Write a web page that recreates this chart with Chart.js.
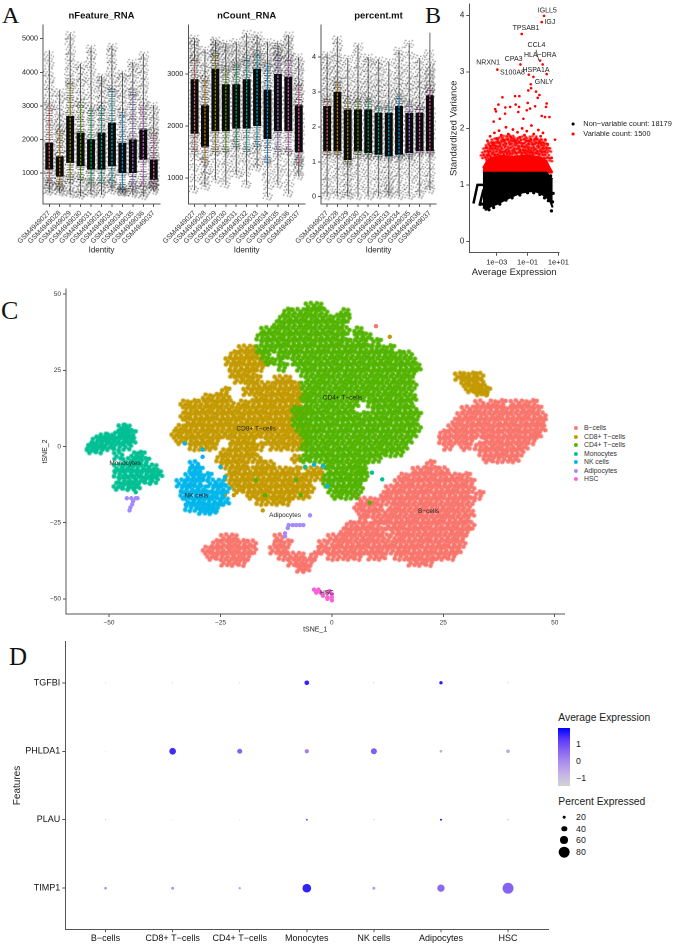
<!DOCTYPE html>
<html>
<head>
<meta charset="utf-8">
<title>scRNA panels</title>
<script src="https://cdn.jsdelivr.net/npm/chart.js@4"></script>
<style>
  html, body { margin: 0; background: #fff; }
  body { position: relative; width: 677px; height: 944px; overflow: hidden; font-family: "Liberation Sans", sans-serif; color: #222; }
  canvas { position: absolute; }
  .letter { position: absolute; font-family: "Liberation Serif", serif; color: #111; line-height: 1; }
  .txt { position: absolute; white-space: nowrap; line-height: 1; transform: translateY(-50%); }
  .dot { position: absolute; border-radius: 50%; transform: translate(-50%, -50%); }
</style>
</head>
<body>
<div class="letter" style="left:2px;top:3px;font-size:24px">A</div>
<div class="letter" style="left:425px;top:3px;font-size:24px">B</div>
<div class="letter" style="left:1px;top:298px;font-size:26px">C</div>
<div class="letter" style="left:9px;top:644px;font-size:25px">D</div>
<canvas id="a1" width="170" height="265" style="left:0;top:0"></canvas>
<canvas id="a2" width="160" height="265" style="left:160px;top:0"></canvas>
<canvas id="a3" width="150" height="265" style="left:290px;top:0"></canvas>
<canvas id="b" width="145" height="280" style="left:440px;top:0"></canvas>
<canvas id="c" width="570" height="356" style="left:0;top:280px"></canvas>
<canvas id="d" width="555" height="308" style="left:0;top:636px"></canvas>
<div id="legends"></div>
<script>
// ---- panel A
const samples = ['GSM4949027','GSM4949028','GSM4949029','GSM4949030','GSM4949031','GSM4949032','GSM4949033','GSM4949034','GSM4949035','GSM4949036','GSM4949037'];
const sampleColors = ['#F8766D','#DB8E00','#AEA200','#64B200','#00BD5C','#00C1A7','#00BADE','#00A6FF','#B385FF','#EF67EB','#FF63B6'];

const featureMin = [400,400,350,300,350,350,450,400,350,300,450];
const featureMax = [4660,3470,5150,4260,4750,3900,4800,4000,4300,4560,3030];
const featureMidLo = [700,600,800,800,700,700,700,500,600,600,600];
const featureMidHi = [3000,2300,3700,3100,2900,3000,3500,2800,3400,3000,2200];
const featureCoreLo = [1100,900,1300,1200,1100,1100,1200,1000,1000,1400,800];
const featureCoreHi = [1900,1500,2700,2200,2000,2200,2500,1900,2000,2300,1400];
const featureSpeckle = [
  [450,520,640,760,900,2200,2450,2700,2950,3200,3400,3600,3800,4000,4250,4500],
  [430,480,560,650,760,1700,1900,2050,2200,2350,2500,2650,2800,3000,3200,3400],
  [380,450,600,800,1000,2900,3100,3300,3550,3800,4000,4250,4450,4650,4900,5100],
  [340,400,520,700,900,2300,2500,2700,2900,3100,3300,3500,3700,3850,4050,4200],
  [380,460,580,720,900,2200,2500,2750,3000,3300,3550,3800,4050,4300,4500,4700],
  [380,470,600,760,900,2300,2500,2700,2850,3000,3200,3350,3500,3650,3750,3850],
  [480,560,700,850,1000,2700,2950,3200,3400,3600,3800,4000,4200,4400,4600,4750],
  [420,440,460,520,580,2100,2350,2600,2800,3000,3200,3350,3500,3700,3850,3950],
  [380,430,520,640,800,2200,2500,2700,2950,3200,3400,3600,3800,4000,4150,4280],
  [320,400,520,700,950,2500,2700,2900,3100,3300,3500,3700,3900,4100,4300,4500],
  [470,540,620,680,720,1500,1650,1800,1950,2100,2250,2400,2550,2700,2850,3000]
];

const countMin = [770,830,960,870,1060,870,1190,640,870,700,1030];
const countMax = [3690,3470,3650,3590,3620,3780,3750,3620,3590,3750,3330];
const countMidLo = [1500,1300,1500,1500,1600,1500,1600,1300,1500,1500,1300];
const countMidHi = [3300,2900,3400,3100,3200,3300,3400,3200,3350,3300,2800];
const countCoreLo = [1850,1600,1900,1900,1950,1950,2000,1750,1900,1900,1500];
const countCoreHi = [2900,2400,3100,2800,2800,2900,3100,2700,3000,2950,2400];
const countSpeckle = [
  [780,1000,1200,1400,1600,1750,3000,3100,3200,3280,3350,3420,3500,3560,3620,3680],
  [840,950,1050,1150,1300,1450,2500,2600,2700,2800,2900,3000,3100,3200,3350,3460],
  [970,1150,1300,1500,1650,1800,3150,3200,3260,3320,3380,3440,3500,3550,3600,3640],
  [880,1050,1200,1350,1550,1750,2900,3000,3080,3150,3220,3300,3380,3450,3520,3580],
  [1070,1200,1350,1500,1650,1800,2900,3000,3080,3150,3220,3300,3380,3450,3520,3610],
  [880,1100,1250,1400,1600,1800,3000,3100,3180,3250,3320,3400,3480,3560,3650,3770],
  [1200,1300,1420,1550,1700,1850,3150,3200,3260,3320,3380,3450,3520,3590,3650,3740],
  [650,850,1000,1150,1350,1600,2800,2900,3000,3080,3160,3250,3330,3420,3520,3610],
  [880,1050,1200,1400,1600,1800,3050,3120,3190,3250,3310,3370,3430,3480,3530,3580],
  [710,900,1100,1300,1500,1750,3000,3100,3180,3260,3340,3420,3500,3580,3660,3740],
  [1040,1120,1200,1280,1350,1420,2450,2550,2650,2750,2850,2950,3050,3130,3220,3320]
];

const mtMin = [0,0,0,0,0,0,0,0,0,0,0.19];
const mtMax = [4.1,4.57,3.97,4.35,4.0,3.95,3.87,4.2,4.4,3.97,4.7];
const mtMidLo = [1.2,1.2,1,1.2,1.2,1.15,1.1,1.15,1.2,1.25,1.25];
const mtMidHi = [2.8,3.3,2.8,2.8,2.8,2.6,2.6,2.9,2.7,2.6,3.1];
const mtCoreLo = [1.3,1.3,1.05,1.3,1.25,1.2,1.15,1.2,1.25,1.3,1.3];
const mtCoreHi = [2.6,3.0,2.5,2.5,2.5,2.4,2.4,2.6,2.4,2.4,2.9];
const mtSpeckle = [
  [0.02,0.2,0.4,0.6,0.85,1.1,2.7,2.85,3,3.15,3.3,3.45,3.6,3.75,3.9,4.05],
  [0.03,0.2,0.45,0.7,0.9,1.15,3.1,3.2,3.35,3.5,3.65,3.8,3.95,4.1,4.3,4.5],
  [0.03,0.1,0.25,0.4,0.55,0.7,0.85,0.95,2.6,2.8,2.95,3.1,3.3,3.5,3.7,3.95],
  [0.02,0.3,0.55,0.8,1,1.2,2.6,2.75,2.9,3.05,3.2,3.4,3.6,3.8,4.05,4.3],
  [0.02,0.25,0.5,0.75,1,1.15,2.6,2.75,2.9,3.05,3.2,3.35,3.5,3.7,3.85,3.98],
  [0.05,0.2,0.4,0.6,0.8,1.05,2.5,2.65,2.8,2.95,3.1,3.25,3.4,3.6,3.75,3.9],
  [0.05,0.12,0.22,0.32,0.45,0.6,0.75,0.95,2.5,2.65,2.8,2.95,3.1,3.3,3.55,3.85],
  [0.03,0.25,0.5,0.7,0.9,1.1,2.7,2.85,3,3.15,3.3,3.45,3.6,3.8,4,4.18],
  [0.03,0.3,0.55,0.8,1,1.15,2.5,2.65,2.8,3,3.15,3.3,3.5,3.75,4.05,4.38],
  [0.06,0.25,0.45,0.7,0.9,1.15,2.5,2.6,2.75,2.9,3.05,3.2,3.35,3.55,3.75,3.95],
  [0.2,0.35,0.5,0.7,0.9,1.15,3,3.1,3.2,3.3,3.4,3.5,3.6,3.7,3.85,4.1]
];
const jitter = [-0.38,0.22,-0.1,0.34,-0.26,0.08,0.4,-0.33,0.15,-0.2,0.3,-0.05,0.42,-0.4,0.1,-0.16];

// ---- panel B (x values are log10 of average expression)
const meanTicks = [-3,-1,1];
const meanTickLabels = ['1e\u221203','1e\u221201','1e+01'];
const varTicks = [0,1,2,3,4];
const bandX = [-3.9,-3.65,-3.32,-3,-2.57,-2.13,-1.7,-1.27,-0.84,-0.41,-0.08,0.24,0.46,0.63];
const nonVarTop = [1.22,1.22,1.22,1.22,1.22,1.22,1.22,1.22,1.22,1.22,1.22,1.22,1.14,1.1];
const nonVarBottom = [0.6,0.58,0.63,0.66,0.72,0.78,0.83,0.87,0.89,0.88,0.84,0.78,0.72,0.6];
const varTop = [1.3,1.42,1.48,1.5,1.52,1.5,1.5,1.52,1.52,1.5,1.48,1.42,1.3,1.22];
const stepAX = [-4.51,-4.25,-3.86]; const stepAY = [0.67,1.0,1.0];
const stepBX = [-4.12,-3.86]; const stepBY = [0.63,0.92];
const edgeX = [-3.95,-3.7,-3.5,-3.2,-2.8,-2.4,-2,-1.5,-1,-0.6,-0.2,0.1,0.35,0.55,0.62,0.66,0.5];
const edgeY = [0.66,0.57,0.56,0.6,0.66,0.73,0.77,0.82,0.86,0.86,0.83,0.77,0.72,0.54,0.7,0.85,1.16];
const midVarX = [-3.8,-3.72,-3.64,-3.55,-3.47,-3.4,-3.33,-3.25,-3.18,-3.1,-3.02,-2.95,-2.87,-2.8,-2.72,-2.65,-2.57,-2.5,-2.42,-2.35,-2.27,-2.2,-2.12,-2.05,-1.97,-1.9,-1.82,-1.75,-1.67,-1.6,-1.52,-1.45,-1.37,-1.3,-1.22,-1.15,-1.07,-1,-0.92,-0.85,-0.77,-0.7,-0.62,-0.55,-0.47,-0.4,-0.32,-0.25,-0.17,-0.1,-0.02,0.05,0.13,0.2,0.28,0.35];
const midVarY = [1.5,1.55,1.62,1.47,1.68,1.58,1.72,1.5,1.66,1.78,1.55,1.7,1.62,1.8,1.52,1.72,1.6,1.83,1.56,1.69,1.76,1.58,1.84,1.62,1.74,1.53,1.8,1.66,1.6,1.77,1.54,1.71,1.64,1.82,1.57,1.7,1.6,1.79,1.55,1.68,1.75,1.6,1.83,1.58,1.7,1.52,1.78,1.62,1.72,1.56,1.76,1.6,1.68,1.5,1.62,1.45];
const highVarX = [-3.7,-3.6,-3.43,-3.3,-3.15,-3,-2.85,-2.7,-2.55,-2.4,-2.25,-2.1,-1.95,-1.8,-1.65,-1.5,-1.35,-1.2,-1.05,-0.9,-0.75,-0.6,-0.45,-0.3,-0.15,0,0.15,0.3];
const highVarY = [1.66,1.78,1.86,1.74,1.92,1.82,1.96,1.88,1.79,2.02,1.9,1.85,1.98,1.76,1.93,1.84,2.0,1.88,1.95,1.78,2.05,1.9,1.82,1.97,1.86,1.92,1.8,1.72];
const topVarX = [0.07,-0.08,-1.38,-0.02,-0.19,-1.46,-2.96,-0.92,-0.62,0.24,-0.79,-0.95,-0.77,-0.45,-0.23,-0.34,-1.81,-1.53,-2.63,-0.99,0.24,-2.89,-3.1,-3.05,-2.44,-2.13,-1.77,-1.55,-0.51,0.2,-1.05,-0.84,-1.6,-2.46,-0.08,0.13,0.42,-3.2,-2.8,-1.27,0.78,0.57];
const topVarY = [3.99,3.88,3.67,3.13,3.2,3.13,3.04,2.95,2.91,2.96,2.78,2.67,2.71,2.65,2.59,2.54,2.57,2.57,2.55,2.45,2.44,2.42,2.34,2.3,2.37,2.38,2.42,2.38,2.39,2.38,2.32,2.35,2.29,2.26,2.22,2.2,2.2,2.12,2.17,2.17,1.8,1.48];
const geneNames = ['IGLL5','IGJ','TPSAB1','CCL4','HLA\u2212DRA','CPA3','NRXN1','S100A8','HSPA1A','GNLY'];
const geneX = [0.28,0.45,-1.1,-0.42,-0.18,-1.9,-3.56,-1.98,-0.45,0.07];
const geneY = [4.08,3.88,3.77,3.47,3.3,3.23,3.16,2.99,3.03,2.82];
const linkX = [-0.45,-0.27]; const linkY = [3.39,3.2];

// ---- panel C, each row is [tSNE_2, tSNE_1, tSNE_1, ...]
const clusterNames = ['B\u2212cells','CD8+ T\u2212cells','CD4+ T\u2212cells','Monocytes','NK cells','Adipocytes','HSC'];
const clusterColors = ['#F8766D','#C49A00','#53B400','#00C094','#00B6EB','#A58AFF','#FB61D7'];
const tsneTicks = [-50,-25,0,25,50];
const clusterLabelX = [21.7,-17,2.4,-46.4,-30.4,-10.5,-1.1];
const clusterLabelY = [-21.2,5.8,16,-5.5,-16.2,-22.6,-48];

const cd4Rows = [
  [46,-5,-3],[44,-10,-8,-6,-4,-2,3],[42,-11,-9,-7,-5,-3,-1,1,3],[40,-12,-10,-8,-6,-4,-2,0,2],
  [38,-15,-13,-11,-9,-7,-5,-3,-1,1,3,6],[36,-16,-14,-12,-10,-8,-6,-4,-2,0,2,6,8],
  [34,-15,-13,-11,-9,-7,-5,-3,-1,1,3,5,7,10],[32,-16,-14,-12,-10,-8,-6,-4,-2,0,2,4,6,8,11,13],
  [30,-15,-11,-9,-7,-5,-3,-1,1,3,5,7,9,11,13,15,17],[28,-14,-12,-8,-6,-4,-2,0,2,4,6,8,10,12,14,16,18],
  [26,-11,-7,-5,-3,-1,1,3,5,7,9,11,13,15,17,19],[24,-6,-4,-2,0,2,4,6,8,10,12,14,16,18],
  [22,-5,-3,-1,1,3,5,7,9,11,13,15,17],[20,-6,-4,-2,0,2,4,6,8,10,12,14,16,18],
  [18,-5,-3,-1,1,3,5,7,9,11,13,15,17],[16,-6,-4,-2,0,2,4,6,8,10,12,14,16,18],
  [14,-5,-3,-1,1,3,5,9,11,13,15,17],[12,-8,-6,-4,-2,0,2,4,10,12,14,16,18],
  [10,-7,-5,-3,-1,1,3,5,7,9,11,13,15,17,19],[8,-8,-6,-4,-2,0,2,4,6,8,10,12,14,16,18],
  [6,-7,-5,-3,-1,1,3,5,7,9,11,13,15,17,19],[4,-6,-4,-2,0,2,4,6,8,10,12,14,16,18],
  [2,-5,-3,-1,1,3,5,7,9,11,13,15,17],[0,-6,-4,-2,0,2,4,6,8,10,12,14,16],
  [-2,-5,-3,-1,1,3,5,7,9,11,13,15],[-4,-6,-4,-2,0,2,4,6,8,10],
  [-6,-1,1,3,5,7],[-8,0,2,4,6,7],[-10,-1,1,3,5,7],[-12,-1,1,3,5,6],[-14,0,2,4,6],[-16,1,3,5]
];
const cd4Sparse = [[-18.5,8.5],[-16,-15,-7],[-11,-17,-8]];

const cd8Rows = [
  [32,-20,-18],[30,-22,-20,-18,-16],[28,-23,-21,-19,-17,-15],[26,-22,-20,-18,-16],
  [24,-22,-20,-18],[22,-21,-19,-17,-12,-10],[20,-18,-16,-14,-12,-10,-8],
  [18,-24,-19,-17,-15,-13,-11,-9,-7],[16,-28,-26,-24,-16,-14,-12,-10,-8,-6],
  [14,-33,-31,-29,-27,-25,-23,-20,-18,-16,-14,-12,-10,-8],
  [12,-32,-30,-28,-26,-24,-22,-20,-18,-16,-14,-12,-10,-8,-6],
  [10,-33,-31,-29,-27,-25,-23,-21,-19,-17,-15,-13,-11,-9,-7],
  [8,-32,-30,-28,-26,-24,-22,-20,-18,-16,-14,-12,-10,-8],
  [6,-34,-32,-30,-28,-26,-24,-22,-20,-18,-16,-14,-12,-10,-8,-6],
  [4,-35,-33,-31,-29,-27,-25,-23,-21,-19,-17,-15,-13,-11,-9,-7],
  [2,-34,-32,-30,-28,-26,-22,-20,-18,-14,-12,-10,-8,-6],
  [0,-31,-29,-27,-22,-20,-18,-16,-13,-11,-9,-7],
  [-2,-24,-22,-20,-18],[-4,-25,-23,-21,-19,-17,-8],[-6,-24,-22,-20,-16,-14],
  [-8,-22,-20,-18,-16,-14,-12,-10,-8,-5,-3],[-10,-23,-21,-19,-17,-15,-13,-11,-9,-7,-5,-3],
  [-12,-22,-20,-18,-16,-14,-12,-10,-8,-6],[-14,-21,-19,-17,-15,-13,-11,-9,-7,-5],
  [-16,-18,-16,-14,-12,-10,-8,-6],[-18,-16,-14,-12,-10],
  [23,28.5,30,31.5,33],[21,30,31.5,33],[19,31,32.5,34],[18,33,34.5]
];
const cd8Sparse = [[-21,-15.5],[36,13],[21,18],[16,18.5],[17,34.8],[-16,-22,-24]];

const bRows = [
  [14,33,36,38,41,43,45],[12,30,32,34,36,38,40,42,44,46],[10,29,31,33,35,37,39,41,43,45,47],
  [8,28,30,32,34,36,38,40,42,44,46,47],[6,27,29,31,33,35,37,39,41,43,45,47],
  [4,25,27,29,31,33,35,37,39,41,43,45,46],[2,25,27,29,31,35,37,39,41,43,45],
  [0,26,30,33,35,37,39,41,43],[-2,34,36,38,40,42],[-4,35,37,39,41],
  [-6,22],[-8,19,21,23,25],[-10,16,18,20,22,24,26,28,30],[-12,15,17,19,21,23,25,27,29,31],
  [-14,13,15,17,19,21,23,25,27,29,31],[-16,12,14,16,18,20,22,24,26,28,30,33],
  [-18,7,9,11,13,15,17,19,21,23,25,27,29,31],[-20,6,8,10,14,16,18,20,22,24,26,28,30],
  [-22,7,9,11,13,15,17,19,21,23,25,27,29,31],[-24,7,10,12,14,16,18,20,22,24,26,28,30],
  [-26,4,6,8,10,13,15,17,19,21,23,25,27,29,31],[-28,3,5,7,9,11,14,16,18,20,22,24,26,28,30],
  [-30,0,2,4,6,8,10,12,15,17,19,21,23,25,27,29],[-32,-2,1,3,5,7,9,11,13,15,17,19,21,23,25,27,29],
  [-34,-2,0,2,4,6,8,10,12,14,16,18,20,22,24,26,28],
  [-36,0,2,4,6,9,11,15,17,19,21,23,25,27],[-38,18,20,22],
  [-30,-24,-22],[-32,-26,-24,-22,-20,-18],[-34,-28,-26,-24,-22,-20,-18],[-36,-27,-25,-23,-21,-19],[-38,-24,-22,-20],
  [-30,-12],[-32,-12,-10],[-34,-13,-11],[-36,-11,-9,-7,-4],[-38,-9,-7,-5],[-40,-7,-6]
];
const bSparse = [[39.5,9.9],[-16,5],[-18,6.5],[-33,-3]];

const monoRows = [
  [6,-47,-46],[4,-48,-47,-46,-45],[3,-51,-50],[2,-53,-51,-49,-47,-46,-45],[0,-54,-52,-50,-48,-46],[-1,-54,-52],
  [-3,-48,-44,-43],[-5,-46,-44,-42],[-7,-48,-46,-44,-42,-40],[-9,-48,-46,-44,-42,-40,-39],
  [-11,-47,-45,-43,-41,-40],[-13,-48,-46,-45,-44]
];
const monoSparse = [[-15,-44],[-8.6,9],[-10.8,11.3],[-6.7,-6]];
const nkRows = [
  [-6,-31],[-8,-31,-30],[-10,-32,-30,-28],[-12,-34,-32,-30,-27,-25],[-14,-33,-31,-29,-26,-24],
  [-16,-33,-31,-29,-27,-25],[-18,-32,-30,-28,-26,-24],[-20,-32,-30,-28,-26],[-21,-29,-27]
];
const nkSparse = [[1,-33],[-1,-29],[-3.4,-29],[-6.7,-25],[-10,-24],[-6,-4],[-6.5,-2],[-13,-1]];
const adipoRows = [
  [-17,-46,-45,-44,-43.6],[-18,-44.6],[-19,-44.8],[-20,-45.2],[-21,-45.4],
  [-25.8,-9.7,-8.8,-8,-7.2,-6.4],[-26.8,-9.9],[-28.5,-10.5],[-29.5,-10.5]
];
const adipoSparse = [[-22.6,-4.9]];
const hscRows = [
  [-47,-4,-3],[-47.5,-0.5,-3.4],[-48,-2.5,-1,-3.5],[-48.5,0],[-49,-2],[-49.5,-1,0],[-50,-1],[-50.5,0]
];

// ---- panel D, rows bottom to top
const features = ['TIMP1','PLAU','PHLDA1','TGFBI'];
const percentExpressed = [
  [20,22,18,65,22,55,82],
  [7,6,6,14,8,14,10],
  [6,50,38,32,45,20,27],
  [7,7,7,35,8,25,8]
];
const avgExpression = [
  [-0.2,-0.2,-0.4,1.5,-0.3,0.5,0.6],
  [-0.5,-0.5,-0.5,1.0,-0.4,1.89,-0.5],
  [-0.5,1.4,0.6,0.1,0.7,-0.6,-0.5],
  [-0.6,-0.6,-0.6,1.5,-0.5,1.6,-0.5]
];
const expColorStops = ['#D3D3D3','#C4B4E6','#AE8FEB','#8A66F2','#5A3AF8','#0000FF'];
const expRange = [-1.47, 1.89];
const expTicks = [1,0,-1];
const percentTicks = [20,40,60,80];

// ---- helpers
const FONT = '"Liberation Sans", sans-serif';
const AXIS = '#555';
const minus = v => String(v).replace('-', '\u2212');
const fromRows = rows => { const pts = []; rows.forEach(([y, ...xs]) => xs.forEach(x => pts.push({x, y}))); return pts; };
const fromXY = (xs, ys) => xs.map((x, i) => ({x, y: ys[i]}));
const pctRadius = p => p / 15;

const hex = c => [1,3,5].map(i => parseInt(c.slice(i, i + 2), 16));
function expColor(v) {
  const t = Math.min(1, Math.max(0, (v - expRange[0]) / (expRange[1] - expRange[0]))) * (expColorStops.length - 1);
  const i = Math.min(expColorStops.length - 2, Math.floor(t));
  const a = hex(expColorStops[i]), b = hex(expColorStops[i + 1]);
  return 'rgb(' + a.map((c, k) => Math.round(c + (b[k] - c) * (t - i))).join(',') + ')';
}

// point glyphs made of a few small dots, so the marks get the grainy look of the overplotted cells
function makeGlyph(offsets, r, color) {
  const w = Math.ceil(2 * (Math.max(...offsets.map(o => Math.abs(o[0]))) + r + 1));
  const h = Math.ceil(2 * (Math.max(...offsets.map(o => Math.abs(o[1]))) + r + 1));
  const cv = document.createElement('canvas');
  cv.width = w; cv.height = h;
  const g = cv.getContext('2d');
  g.fillStyle = color;
  offsets.forEach(([dx, dy]) => { g.beginPath(); g.arc(w / 2 + dx, h / 2 + dy, r, 0, Math.PI * 2); g.fill(); });
  return cv;
}
const cellOffsets = [
  [[-3.8,-2.6],[1.2,-3.4],[4.2,-0.8],[-1.4,0.6],[2.4,2.8],[-3.4,3.2]],
  [[-4.2,0.4],[-1.6,-3.2],[2.8,-2.4],[0.6,0.8],[4,2],[-1.8,3.4]],
  [[-2.8,-1.4],[0.8,-3.6],[4.4,-3],[1.8,0.2],[-4,2.4],[0.6,3.6]]
];
const speckOffsets = [
  [[-4,-3],[-1.5,-3.6],[2,-2.6],[4.2,-1],[-2.8,-0.6],[0.4,0.2],[3.2,1.4],[-4.4,1.8],[-0.8,2.6],[2,3.4]],
  [[-3,-3.4],[0.6,-2.8],[3.8,-3.2],[-4.3,-1],[-1.2,-0.4],[2.4,-0.2],[4.4,1],[-2.6,1.6],[0.8,2.2],[-4,3.4],[3,3.2]]
];
const sideOffsets = [[-5,-16],[4.8,-15],[-4.4,-12],[5.2,-10],[-5.4,-8],[4.6,-6],[-4.8,-4],[5.4,-2],[-5.2,0],[4.7,2],[-4.5,4],[5.2,6],[-5.3,8],[4.4,10],[-4.7,12],[5,15],[-4.2,17]];
const redOffsets = [[-3.4,-1.2],[-0.6,-2],[2.8,-1.4],[-2,1.4],[1.2,1],[3.6,1.8]];
const glyphPicker = glyphs => ctx => glyphs[ctx.dataIndex % glyphs.length];

// fixes the width or height of an axis so the plot area lands where it should
const fit = size => s => {
  if (s.isHorizontal()) s.height = size; else s.width = size;
  s.paddingLeft = s.paddingRight = s.paddingTop = s.paddingBottom = 0;
};
const axis = (o) => ({
  type: 'linear', offset: false, min: o.min, max: o.max,
  border: { display: true, color: AXIS, width: 1 },
  grid: { display: true, offset: false, drawOnChartArea: false, drawTicks: true, tickLength: 3, color: AXIS },
  ticks: {
    autoSkip: false, padding: o.tickPad === undefined ? 2 : o.tickPad, color: o.tickColor || '#222',
    font: { family: FONT, size: o.tickSize }, callback: o.label || minus,
    minRotation: o.rotate || 0, maxRotation: o.rotate || 0
  },
  afterBuildTicks: s => { s.ticks = o.ticks.map(value => ({value})); },
  afterFit: fit(o.size),
  title: { display: !!o.title, text: o.title, color: '#222', font: { family: FONT, size: o.titleSize }, padding: o.titlePad }
});
const baseOptions = (extra) => Object.assign({
  responsive: false, animation: false, events: [], devicePixelRatio: 2,
  elements: { point: { borderWidth: 0 } }
}, extra);

// text that sits at data coordinates
const textLabels = {
  id: 'textLabels',
  afterDatasetsDraw(chart, args, opts) {
    const {ctx, scales} = chart;
    ctx.save();
    ctx.fillStyle = opts.color;
    ctx.font = opts.size + 'px ' + FONT;
    ctx.textAlign = 'center';
    ctx.textBaseline = 'middle';
    opts.names.forEach((n, i) => ctx.fillText(n, scales.x.getPixelForValue(opts.xs[i]), scales.y.getPixelForValue(opts.ys[i])));
    ctx.restore();
  }
};

// ---- panel A charts
// vertical spans drawn as thick line segments, one per sample, broken by nulls
const spans = (lo, hi) => samples.flatMap((_, i) => [{x: i, y: lo[i]}, {x: i, y: hi[i]}, {x: i, y: null}]);
const speckGlyphs = speckOffsets.map(o => makeGlyph(o, 0.55, '#111'));
const sideGlyph = makeGlyph(sideOffsets, 0.6, '#111');
function violinChart(id, title, left, right, range, yTicks, s) {
  const c = document.getElementById(id);
  const layer = (lo, hi, color, width, dash) => ({
    type: 'line', data: spans(lo, hi), borderColor: color, borderWidth: width, borderDash: dash || [], pointRadius: 0, spanGaps: false
  });
  const speckle = [];
  s.speckle.forEach((ys, i) => ys.forEach((y, j) => speckle.push({x: i + jitter[(j + i * 3) % jitter.length] * 0.2, y})));
  samples.forEach((_, i) => {
    speckle.push({x: i, y: s.coreLo[i]}, {x: i, y: s.coreHi[i]}, {x: i, y: s.midLo[i]}, {x: i, y: s.midHi[i]});
  });
  const coreMiddle = samples.map((_, i) => ({x: i, y: (s.coreLo[i] + s.coreHi[i]) / 2}));
  const streaks = samples.map((_, i) => ({
    type: 'line', data: [{x: i, y: s.midLo[i]}, {x: i, y: s.midHi[i]}], borderColor: sampleColors[i] + 'd0', borderWidth: 1.3, pointRadius: 0, borderDash: [2.5, 1.2]
  }));
  new Chart(c, {
    type: 'scatter',
    data: { datasets: [
      ...streaks,
      { data: speckle, pointStyle: glyphPicker(speckGlyphs), pointRadius: 1 },
      { data: coreMiddle, pointStyle: sideGlyph, pointRadius: 1 },
      layer(s.coreLo, s.coreHi, 'rgba(0,0,0,0.95)', 8),
      layer(s.midLo, s.midHi, 'rgba(0,0,0,0.6)', 7, [0.7, 1.6, 0.4, 2.1]),
      layer(s.min, s.max, id === 'a3' ? '#8a8a8a' : '#444', id === 'a3' ? 1.3 : 0.8)
    ] },
    options: baseOptions({
      layout: { padding: { left: 0, right: c.width - right, top: 0, bottom: 0 } },
      plugins: {
        legend: { display: false }, tooltip: { enabled: false },
        title: { display: true, text: title, fullSize: false, color: '#111', font: { family: FONT, size: 9.5, weight: 'bold' }, padding: { top: 10, bottom: 3.6 } }
      },
      scales: {
        x: axis({ min: -0.6, max: 10.6, ticks: samples.map((_, i) => i), label: v => samples[v], rotate: 45, tickSize: 7, tickColor: '#333', size: 61, title: 'Identity', titleSize: 8, titlePad: { top: 0, bottom: 10 } }),
        y: axis({ min: range[0], max: range[1], ticks: yTicks, tickSize: 7.2, size: left })
      }
    })
  });
}
violinChart('a1', 'nFeature_RNA', 43, 160, [77, 5408], [1000,2000,3000,4000,5000],
  { min: featureMin, max: featureMax, midLo: featureMidLo, midHi: featureMidHi, coreLo: featureCoreLo, coreHi: featureCoreHi, speckle: featureSpeckle });
violinChart('a2', 'nCount_RNA', 28.3, 145, [500, 3942], [1000,2000,3000],
  { min: countMin, max: countMax, midLo: countMidLo, midHi: countMidHi, coreLo: countCoreLo, coreHi: countCoreHi, speckle: countSpeckle });
violinChart('a3', 'percent.mt', 31, 148, [-0.21, 4.92], [0,1,2,3,4],
  { min: mtMin, max: mtMax, midLo: mtMidLo, midHi: mtMidHi, coreLo: mtCoreLo, coreHi: mtCoreHi, speckle: mtSpeckle });

// ---- panel B chart
const redGlyph = makeGlyph(redOffsets, 1.3, '#FF0000');
new Chart(document.getElementById('b'), {
  type: 'scatter',
  data: { datasets: [
    { type: 'line', data: fromXY(linkX, linkY), borderColor: '#333', borderWidth: 0.7, pointRadius: 0 },
    { type: 'line', data: fromXY(stepAX, stepAY), borderColor: '#000', borderWidth: 2.5, pointRadius: 0 },
    { type: 'line', data: fromXY(stepBX, stepBY), borderColor: '#000', borderWidth: 2.5, pointRadius: 0 },
    { data: fromXY(edgeX, edgeY), backgroundColor: '#000', pointRadius: 1.6 },
    { type: 'line', data: fromXY(bandX, nonVarTop), borderColor: '#000', borderWidth: 1.5, pointRadius: 0, backgroundColor: '#000', fill: '+1' },
    { type: 'line', data: fromXY(bandX, nonVarBottom), borderColor: '#000', borderWidth: 2, pointRadius: 0 },
    { data: fromXY(topVarX, topVarY), backgroundColor: '#FF0000', pointRadius: 1.3 },
    { data: fromXY(highVarX, highVarY), backgroundColor: '#FF0000', pointRadius: 1.4 },
    { data: fromXY(midVarX, midVarY), pointStyle: redGlyph, pointRadius: 1 },
    { type: 'line', data: fromXY(bandX, varTop), borderColor: '#FF0000', borderWidth: 1.5, pointRadius: 0, backgroundColor: '#FF0000', fill: { value: 1.2 } }
  ] },
  options: baseOptions({
    layout: { padding: { left: 0, right: 145 - 119, top: 0, bottom: 0 } },
    plugins: {
      legend: { display: false }, tooltip: { enabled: false },
      textLabels: { names: geneNames, xs: geneX, ys: geneY, size: 7, color: '#222' }
    },
    scales: {
      x: axis({ min: -4.78, max: 1.04, ticks: meanTicks, label: v => meanTickLabels[meanTicks.indexOf(v)], tickSize: 7.5, size: 27.3, title: 'Average Expression', titleSize: 9.5, titlePad: { top: 0, bottom: 2 } }),
      y: axis({ min: -0.2, max: 4.2, ticks: varTicks, tickSize: 8, size: 29.3, title: 'Standardized Variance', titleSize: 9.5, titlePad: { top: 8, bottom: 0 } })
    }
  }),
  plugins: [textLabels]
});

// ---- panel C chart
const clusters = [
  [monoRows, monoSparse], [nkRows, nkSparse], [adipoRows, adipoSparse], [hscRows, []],
  [cd4Rows, cd4Sparse], [cd8Rows, cd8Sparse], [bRows, bSparse]
];
const clusterOrder = [3, 4, 5, 6, 2, 1, 0];
const clusterSets = [];
clusters.forEach(([rows, sparse], k) => {
  const color = clusterColors[clusterOrder[k]];
  const small = clusterOrder[k] === 5 || clusterOrder[k] === 6;
  clusterSets.push({ data: fromRows(sparse), backgroundColor: color, pointRadius: 2.2 });
  if (small) {
    clusterSets.push({ data: fromRows(rows), backgroundColor: color, pointRadius: 2.2 });
  } else {
    const glyphs = cellOffsets.map(o => makeGlyph(o, 2.3, color));
    clusterSets.push({ data: fromRows(rows), pointStyle: glyphPicker(glyphs), pointRadius: 1 });
  }
});
new Chart(document.getElementById('c'), {
  type: 'scatter',
  data: { datasets: clusterSets },
  options: baseOptions({
    layout: { padding: { left: 0, right: 570 - 564.3, top: 9, bottom: 0 } },
    plugins: {
      legend: { display: false }, tooltip: { enabled: false },
      textLabels: { names: clusterNames, xs: clusterLabelX, ys: clusterLabelY, size: 6.5, color: '#222' }
    },
    scales: {
      x: axis({ min: -59.65, max: 52.15, ticks: tsneTicks, tickSize: 6.5, tickColor: '#333', size: 22, title: 'tSNE_1', titleSize: 7, titlePad: { top: 0, bottom: 2 } }),
      y: axis({ min: -55, max: 51.7, ticks: tsneTicks, tickSize: 6.5, tickColor: '#333', size: 66, title: 'tSNE_2', titleSize: 7, titlePad: { top: 41, bottom: 0 } })
    }
  }),
  plugins: [textLabels]
});

// ---- panel D chart
const dots = [];
features.forEach((_, r) => clusterNames.forEach((_, k) => dots.push({ x: k, y: r, r: pctRadius(percentExpressed[r][k]), v: avgExpression[r][k] })));
new Chart(document.getElementById('d'), {
  type: 'bubble',
  data: { datasets: [{ data: dots, backgroundColor: dots.map(p => expColor(p.v)), borderWidth: 0 }] },
  options: baseOptions({
    layout: { padding: { left: 0, right: 555 - 548.3, top: 5.7, bottom: 0 } },
    plugins: { legend: { display: false }, tooltip: { enabled: false } },
    scales: {
      x: axis({ min: -0.6, max: 6.6, ticks: clusterNames.map((_, i) => i), label: v => clusterNames[v], tickSize: 9, tickColor: '#111', tickPad: 1, size: 14.7 }),
      y: axis({ min: -0.6, max: 3.6, ticks: features.map((_, i) => i), label: v => features[v], tickSize: 9, tickColor: '#111', size: 65.3, title: 'Features', titleSize: 10, titlePad: { top: 11, bottom: 0 } })
    }
  })
});

// ---- legends, plain text and dots next to the panels
const legends = document.getElementById('legends');
function text(str, left, top, size, color) {
  const e = document.createElement('div');
  e.className = 'txt';
  e.textContent = str;
  e.style.cssText = 'left:' + left + 'px;top:' + top + 'px;font-size:' + size + 'px;color:' + (color || '#222');
  legends.appendChild(e);
}
function dot(left, top, r, color) {
  const e = document.createElement('div');
  e.className = 'dot';
  e.style.cssText = 'left:' + left + 'px;top:' + top + 'px;width:' + 2 * r + 'px;height:' + 2 * r + 'px;background:' + color;
  legends.appendChild(e);
}
dot(573.3, 124.3, 1.4, '#000');
dot(573.3, 134.3, 1.4, '#FF0000');
text('Non\u2212variable count: 18179', 583.3, 124.3, 7.4);
text('Variable count: 1500', 583.3, 134.3, 7.4);

clusterNames.forEach((n, i) => {
  dot(576, 428.3 + i * 8.5, 2.1, clusterColors[i]);
  text(n, 584, 428.3 + i * 8.5, 6.8, '#333');
});

text('Average Expression', 558.3, 718, 10.3);
const bar = document.createElement('div');
bar.style.cssText = 'position:absolute;left:558.3px;top:728px;width:11.7px;height:57.7px;background:linear-gradient(to top,' + expColorStops.join(',') + ')';
legends.appendChild(bar);
expTicks.forEach(v => text(minus(v), 576, 760.7 - v * 17.2, 8.8));
text('Percent Expressed', 558.3, 801.7, 10.3);
percentTicks.forEach((p, i) => {
  dot(564.3, 817 + i * 11.67, pctRadius(p), '#000');
  text(String(p), 576, 817 + i * 11.67, 8.8);
});
</script>
</body>
</html>
